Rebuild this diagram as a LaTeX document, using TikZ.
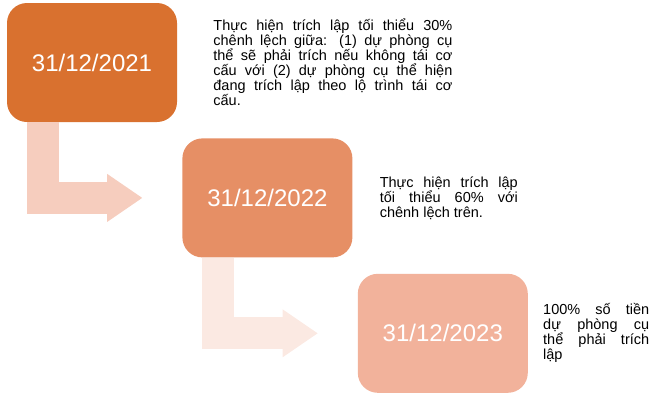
\documentclass[tikz,border=0pt]{standalone}
\usepackage{fontspec}
\setmainfont{Liberation Sans}
\usetikzlibrary{positioning,arrows.meta}
\definecolor{due1}{HTML}{D9712F}
\definecolor{due2}{HTML}{E68F65}
\definecolor{due3}{HTML}{F2B29B}
\definecolor{lead1}{HTML}{F6CDBE}
\definecolor{lead2}{HTML}{FBE9E2}
\newcommand{\pct}{\%} % Percent sign.

\begin{document}
\begin{tikzpicture}[x=1pt, y=-1pt,
  datebox/.style={rectangle, rounded corners=20pt, minimum width=170pt,
    minimum height=119pt, inner sep=0pt, text=white,
    font=\fontsize{24}{28}\selectfont},
  memo/.style={align=justify, inner sep=0pt,
    font=\fontsize{14.5}{15}\selectfont},
  bent/.style={line width=32pt, shorten >=40pt,
    -{Triangle[width=48pt,length=35pt,line width=0pt]}}]
\useasboundingbox (0,0) rectangle (660,400);
\node[datebox, fill=due1] (b1) at (92,62.5) {31/12/2021};
\node[datebox, fill=due2, below right=16pt and 5pt of b1] (b2) {31/12/2022};
\node[datebox, fill=due3, below right=16pt and 5pt of b2] (b3) {31/12/2023};
\node[memo, text width=239pt, right=36pt of b1] (m1)
  {Thực hiện trích lập tối thiểu 30\pct\linebreak
   chênh lệch giữa: (1) dự phòng cụ\linebreak
   thể sẽ phải trích nếu không tái cơ\linebreak
   cấu với (2) dự phòng cụ thể hiện\linebreak
   đang trích lập theo lộ trình tái cơ\linebreak
   cấu.};
\node[memo, text width=138pt, right=27pt of b2] (m2)
  {Thực hiện trích lập\linebreak
   tối thiểu 60\pct{} với\linebreak
   chênh lệch trên.};
\node[memo, text width=106pt, right=15pt of b3] (m3)
  {100\pct{} số tiền\linebreak
   dự phòng cụ\linebreak
   thể phải trích\linebreak
   lập};
\draw[bent, lead1] ([xshift=-49pt]b1.south) |- (b2.west);
\draw[bent, lead2] ([xshift=-49.5pt]b2.south) |- (b3.west);
\end{tikzpicture}
\end{document}
